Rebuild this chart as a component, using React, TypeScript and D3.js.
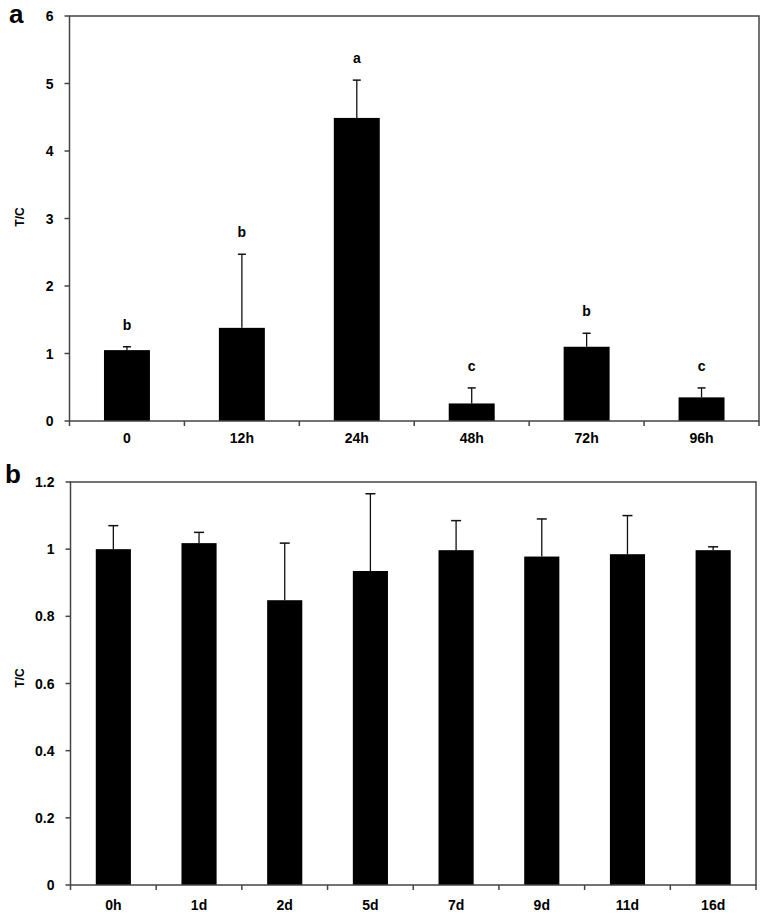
import React from "react";
import * as d3 from "d3";

const catsA = ["0", "12h", "24h", "48h", "72h", "96h"];
const valsA = [1.05, 1.38, 4.49, 0.26, 1.1, 0.35];
const errTopA = [1.1, 2.47, 5.05, 0.49, 1.3, 0.49];
const lettersA = ["b", "b", "a", "c", "b", "c"];
const ticksA = [0, 1, 2, 3, 4, 5, 6];

const catsB = ["0h", "1d", "2d", "5d", "7d", "9d", "11d", "16d"];
const valsB = [1.0, 1.018, 0.848, 0.935, 0.997, 0.978, 0.985, 0.997];
const errTopB = [1.07, 1.05, 1.018, 1.165, 1.085, 1.09, 1.1, 1.007];
const ticksB = [0, 0.2, 0.4, 0.6, 0.8, 1.0, 1.2];

const FONT = "'Liberation Sans', Arial, sans-serif";
const AXIS = "#444";

type PanelProps = {
  label: string;
  labelX: number;
  labelY: number;
  titleY: number;
  cats: string[];
  vals: number[];
  errTop: number[];
  letters?: string[];
  ticks: number[];
  yMax: number;
  left: number;
  right: number;
  top: number;
  bottom: number;
  barFrac: number;
  capW: number;
  tickFmt: (v: number) => string;
  xLabelY: number;
};

function Panel(p: PanelProps) {
  const x = d3.scaleBand<string>().domain(p.cats).range([p.left, p.right]).paddingInner(0).paddingOuter(0);
  const y = d3.scaleLinear().domain([0, p.yMax]).range([p.bottom, p.top]);
  const bw = x.bandwidth() * p.barFrac;
  return (
    <g>
      <text x={p.labelX} y={p.labelY} fontFamily={FONT} fontWeight="bold" fontSize={26}>
        {p.label}
      </text>
      <text
        transform={`translate(24,${p.titleY}) rotate(-90)`}
        textAnchor="middle"
        fontFamily={FONT}
        fontWeight="bold"
        fontSize={12}
      >
        T/C
      </text>
      {p.cats.map((c, i) => {
        const cx = (x(c) as number) + x.bandwidth() / 2;
        const yt = y(p.errTop[i]);
        return (
          <g key={c}>
            <line x1={cx} x2={cx} y1={y(p.vals[i])} y2={yt} stroke="#111" strokeWidth={1.3} />
            <line x1={cx - p.capW / 2} x2={cx + p.capW / 2} y1={yt} y2={yt} stroke="#111" strokeWidth={1.5} />
            <rect x={cx - bw / 2} y={y(p.vals[i])} width={bw} height={p.bottom - y(p.vals[i])} fill="#000" />
            {p.letters && (
              <text x={cx} y={yt - 17} textAnchor="middle" fontFamily={FONT} fontWeight="bold" fontSize={14}>
                {p.letters[i]}
              </text>
            )}
            <text x={cx} y={p.xLabelY} textAnchor="middle" fontFamily={FONT} fontWeight="bold" fontSize={14}>
              {c}
            </text>
          </g>
        );
      })}
      <rect
        x={p.left}
        y={p.top}
        width={p.right - p.left}
        height={p.bottom - p.top}
        fill="none"
        stroke={AXIS}
        strokeWidth={1.5}
      />
      {p.ticks.map((t) => (
        <g key={t}>
          <line x1={p.left - 5} x2={p.left} y1={y(t)} y2={y(t)} stroke={AXIS} strokeWidth={1.5} />
          <text
            x={p.left - 16}
            y={y(t) + 5}
            textAnchor="end"
            fontFamily={FONT}
            fontWeight="bold"
            fontSize={14}
          >
            {p.tickFmt(t)}
          </text>
        </g>
      ))}
      {p.cats.map((c, i) => {
        const bx = (x(c) as number) + x.bandwidth();
        return i < p.cats.length - 1 ? (
          <line key={c} x1={bx} x2={bx} y1={p.bottom} y2={p.bottom + 5} stroke={AXIS} strokeWidth={1.5} />
        ) : null;
      })}
      <line x1={p.left} x2={p.left} y1={p.bottom} y2={p.bottom + 5} stroke={AXIS} strokeWidth={1.5} />
      <line x1={p.right} x2={p.right} y1={p.bottom} y2={p.bottom + 5} stroke={AXIS} strokeWidth={1.5} />
    </g>
  );
}

export default function App() {
  return (
    <svg
      width={766}
      height={914}
      style={{ position: "absolute", left: 0, top: 0, background: "#fff" }}
    >
      <Panel
        label="a"
        labelX={9}
        labelY={23}
        titleY={217}
        cats={catsA}
        vals={valsA}
        errTop={errTopA}
        letters={lettersA}
        ticks={ticksA}
        yMax={6}
        left={69.5}
        right={759}
        top={16}
        bottom={421}
        barFrac={0.4}
        capW={8}
        tickFmt={(v) => String(v)}
        xLabelY={443}
      />
      <Panel
        label="b"
        labelX={5}
        labelY={483}
        titleY={678}
        cats={catsB}
        vals={valsB}
        errTop={errTopB}
        ticks={ticksB}
        yMax={1.2}
        left={70.5}
        right={756}
        top={482}
        bottom={885}
        barFrac={0.41}
        capW={10}
        tickFmt={(v) => (v === 0 || v === 1 ? String(v) : v.toFixed(1))}
        xLabelY={910}
      />
    </svg>
  );
}
